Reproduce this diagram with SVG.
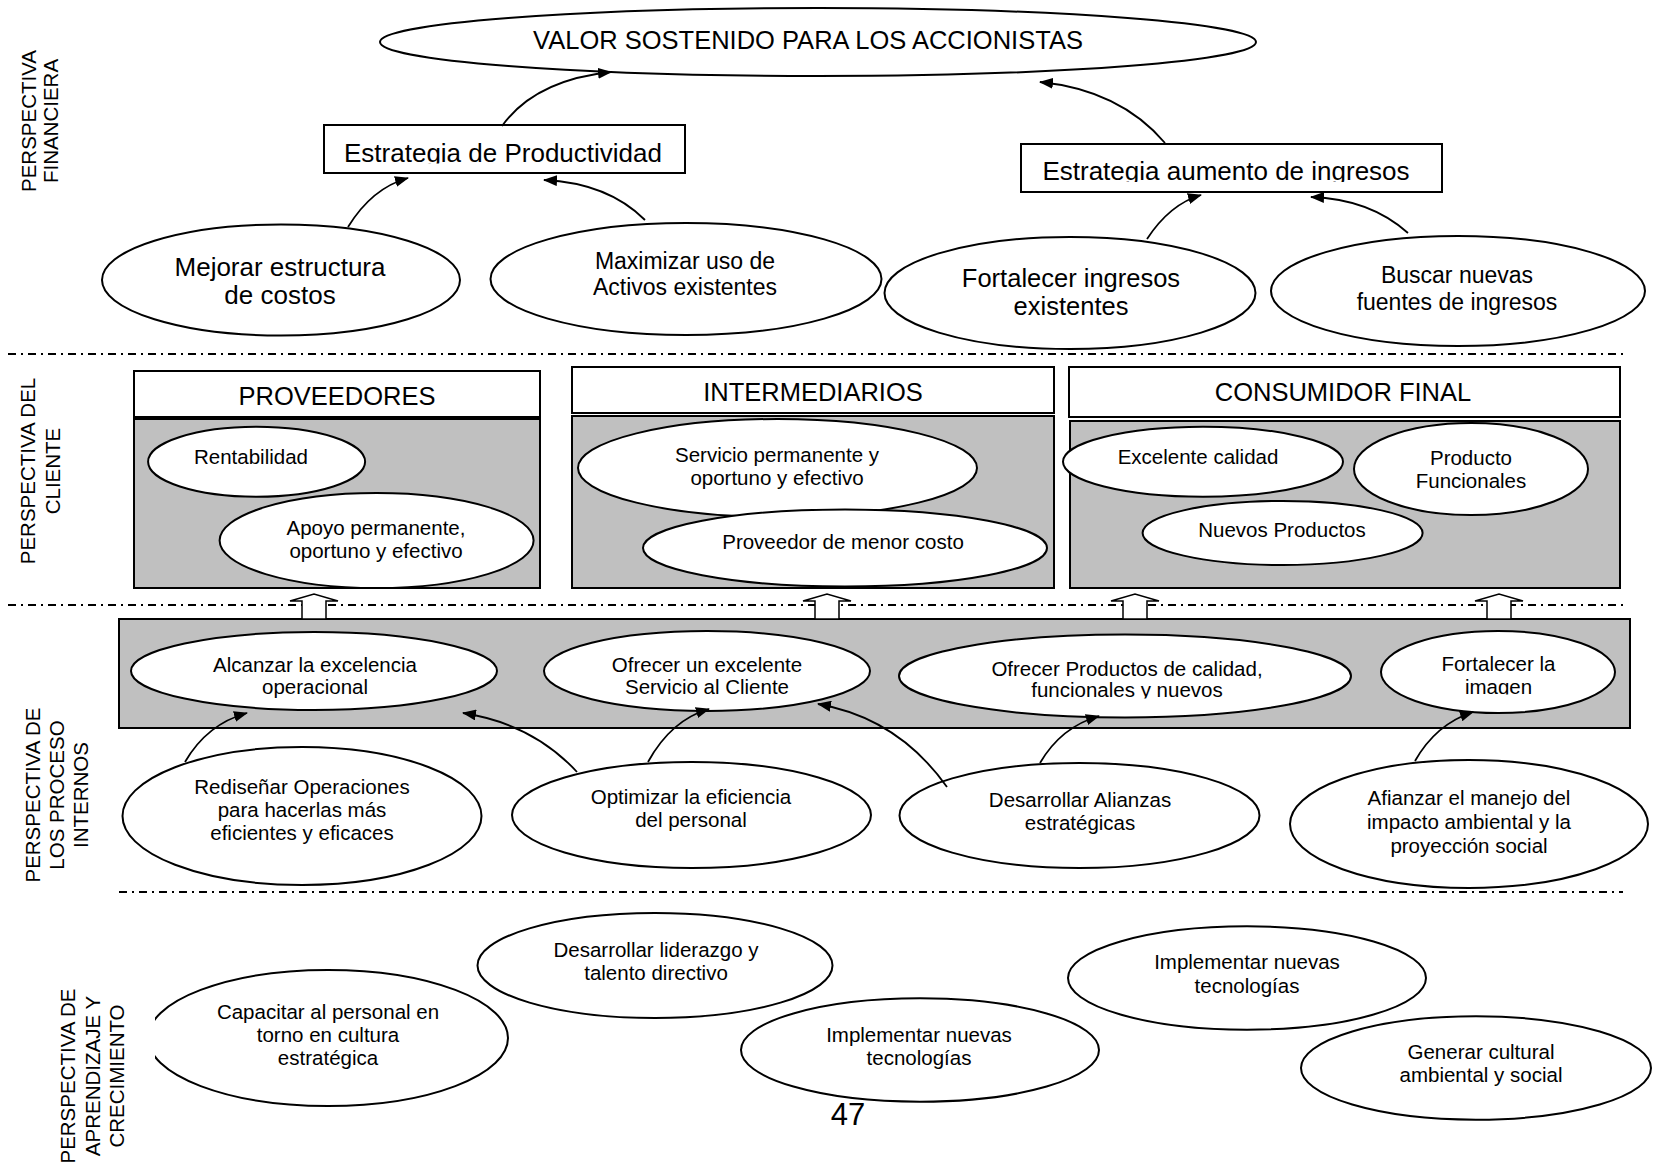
<svg xmlns="http://www.w3.org/2000/svg" width="1653" height="1168" viewBox="0 0 1653 1168">
<style>
.t{font-family:"Liberation Sans",Arial,sans-serif;fill:#000;text-anchor:middle}
.s{font-size:20.5px}
.m{font-size:23px}
.l{font-size:25.5px}
.lab{font-family:"Liberation Sans",Arial,sans-serif;font-size:20.5px;text-anchor:middle;fill:#000}
.e{fill:#fff;stroke:#000;stroke-width:2}
.box{fill:#fff;stroke:#000;stroke-width:2}
.gray{fill:#c0c0c0;stroke:#000;stroke-width:2}
.dash{stroke:#000;stroke-width:2;stroke-dasharray:8 5 2 5;fill:none}
.arr{fill:none;stroke:#000;stroke-width:1.8;marker-end:url(#ah)}
.blk{fill:#fff;stroke:#000;stroke-width:1.5}
</style>
<defs>
<marker id="ah" viewBox="0 0 14 11" refX="13" refY="5.5" markerWidth="14" markerHeight="11" markerUnits="userSpaceOnUse" orient="auto">
<path d="M0,0 L14,5.5 L0,11 z" fill="#000"/>
</marker>
<clipPath id="c1"><rect x="324" y="125" width="361" height="38.5"/></clipPath>
<clipPath id="c2"><rect x="1021" y="144" width="421" height="38"/></clipPath>
<clipPath id="c3"><rect x="900" y="635" width="452" height="63.5"/></clipPath>
<clipPath id="c4"><rect x="1381" y="632" width="234" height="62.5"/></clipPath>
<clipPath id="c5"><rect x="155" y="960" width="400" height="160"/></clipPath>
</defs>
<rect x="0" y="0" width="1653" height="1168" fill="#fff"/>

<g id="section-labels">
<text class="lab" transform="translate(36,121) rotate(-90)"><tspan x="0" y="0">PERSPECTIVA</tspan><tspan x="0" y="22">FINANCIERA</tspan></text>
<text class="lab" transform="translate(35,471) rotate(-90)"><tspan x="0" y="0">PERSPECTIVA DEL</tspan><tspan x="0" y="25">CLIENTE</tspan></text>
<text class="lab" transform="translate(39.5,795) rotate(-90)"><tspan x="0" y="0">PERSPECTIVA DE</tspan><tspan x="0" y="24">LOS PROCESO</tspan><tspan x="0" y="48">INTERNOS</tspan></text>
<text class="lab" transform="translate(75,1076) rotate(-90)"><tspan x="0" y="0">PERSPECTIVA DE</tspan><tspan x="0" y="25">APRENDIZAJE Y</tspan><tspan x="0" y="49">CRECIMIENTO</tspan></text>
</g>

<g id="separators">
<line class="dash" x1="8" y1="354" x2="1623" y2="354"/>
<line class="dash" x1="8" y1="605" x2="1623" y2="605"/>
<line class="dash" x1="119" y1="892" x2="1623" y2="892"/>
</g>

<g id="valor">
<ellipse class="e" cx="818" cy="42" rx="438" ry="34"/>
<text class="t l" x="808" y="49">VALOR SOSTENIDO PARA LOS ACCIONISTAS</text>
</g>
<g id="estrategia-productividad">
<rect class="box" x="324" y="125" width="361" height="48"/>
<text class="t" style="font-size:26px" x="503" y="161.5" clip-path="url(#c1)">Estrategia de Productividad</text>
</g>
<g id="estrategia-ingresos">
<rect class="box" x="1021" y="144" width="421" height="48"/>
<text class="t" style="font-size:26px" x="1226" y="180" clip-path="url(#c2)">Estrategia aumento de ingresos</text>
</g>
<g id="mejorar">
<ellipse class="e" cx="281" cy="280" rx="179" ry="55.5"/>
<text class="t" style="font-size:26px" x="280" y="276">Mejorar estructura<tspan x="280" y="304">de costos</tspan></text>
</g>
<g id="maximizar">
<ellipse class="e" cx="686" cy="279" rx="195.5" ry="56"/>
<text class="t m" x="685" y="269">Maximizar uso de<tspan x="685" y="295">Activos existentes</tspan></text>
</g>
<g id="fortalecer-ingresos">
<ellipse class="e" cx="1070" cy="293" rx="185.5" ry="56"/>
<text class="t l" x="1071" y="287">Fortalecer ingresos<tspan x="1071" y="315">existentes</tspan></text>
</g>
<g id="buscar">
<ellipse class="e" cx="1458" cy="291" rx="187" ry="55"/>
<text class="t m" x="1457" y="283">Buscar nuevas<tspan x="1457" y="309.5">fuentes de ingresos</tspan></text>
</g>

<g id="proveedores">
<rect class="box" x="134" y="371" width="406" height="46"/>
<rect class="gray" x="134" y="419" width="406" height="169"/>
<text class="t l" x="337" y="405">PROVEEDORES</text>
</g>
<g id="rentabilidad">
<ellipse class="e" cx="256.6" cy="461.7" rx="108.5" ry="35"/>
<text class="t s" x="251" y="464">Rentabilidad</text>
</g>
<g id="apoyo">
<ellipse class="e" cx="376.6" cy="540.5" rx="157" ry="47.5"/>
<text class="t s" x="376" y="535">Apoyo permanente,<tspan x="376" y="558">oportuno y efectivo</tspan></text>
</g>
<g id="intermediarios">
<rect class="box" x="572" y="367" width="482" height="46"/>
<rect class="gray" x="572" y="416" width="482" height="172"/>
<text class="t l" x="813" y="401">INTERMEDIARIOS</text>
</g>
<g id="servicio-permanente">
<ellipse class="e" cx="777.5" cy="468" rx="199.5" ry="49"/>
<text class="t s" x="777" y="462">Servicio permanente y<tspan x="777" y="484.5">oportuno y efectivo</tspan></text>
</g>
<g id="proveedor-menor-costo">
<ellipse class="e" cx="845" cy="548" rx="202" ry="38.5"/>
<text class="t s" x="843" y="549">Proveedor de menor costo</text>
</g>
<g id="consumidor-final">
<rect class="box" x="1069" y="367" width="551" height="50"/>
<rect class="gray" x="1070" y="421" width="550" height="167"/>
<text class="t l" x="1343" y="401">CONSUMIDOR FINAL</text>
</g>
<g id="excelente-calidad">
<ellipse class="e" cx="1203" cy="461.7" rx="140" ry="35"/>
<text class="t s" x="1198" y="464">Excelente calidad</text>
</g>
<g id="producto-funcionales">
<ellipse class="e" cx="1471" cy="469" rx="117" ry="46"/>
<text class="t s" x="1471" y="464.5">Producto<tspan x="1471" y="487.5">Funcionales</tspan></text>
</g>
<g id="nuevos-productos">
<ellipse class="e" cx="1282.6" cy="533" rx="140" ry="32"/>
<text class="t s" x="1282" y="537">Nuevos Productos</text>
</g>

<g id="procesos-internos">
<rect class="gray" x="119" y="619" width="1511" height="109"/>
</g>
<g id="alcanzar">
<ellipse class="e" cx="314" cy="671" rx="183" ry="39"/>
<text class="t s" x="315" y="672">Alcanzar la excelencia<tspan x="315" y="694">operacional</tspan></text>
</g>
<g id="ofrecer-servicio">
<ellipse class="e" cx="707" cy="671" rx="163" ry="40"/>
<text class="t s" x="707" y="672">Ofrecer un excelente<tspan x="707" y="694">Servicio al Cliente</tspan></text>
</g>
<g id="ofrecer-productos">
<ellipse class="e" cx="1125" cy="676" rx="226" ry="41.5"/>
<text class="t s" x="1127" y="675.5" clip-path="url(#c3)">Ofrecer Productos de calidad,<tspan x="1127" y="697">funcionales y nuevos</tspan></text>
</g>
<g id="fortalecer-imagen">
<ellipse class="e" cx="1498" cy="672" rx="117" ry="41"/>
<text class="t s" x="1498.5" y="670.5" clip-path="url(#c4)">Fortalecer la<tspan x="1498.5" y="693.5">imagen</tspan></text>
</g>
<g id="redisenar">
<ellipse class="e" cx="302" cy="816" rx="179.5" ry="69"/>
<text class="t s" x="302" y="794">Rediseñar Operaciones<tspan x="302" y="817">para hacerlas más</tspan><tspan x="302" y="840">eficientes y eficaces</tspan></text>
</g>
<g id="optimizar">
<ellipse class="e" cx="691.5" cy="815" rx="179.5" ry="53"/>
<text class="t s" x="691" y="803.5">Optimizar la eficiencia<tspan x="691" y="826.5">del personal</tspan></text>
</g>
<g id="desarrollar-alianzas">
<ellipse class="e" cx="1079.5" cy="815.5" rx="180" ry="52.5"/>
<text class="t s" x="1080" y="806.5">Desarrollar Alianzas<tspan x="1080" y="829.5">estratégicas</tspan></text>
</g>
<g id="afianzar">
<ellipse class="e" cx="1469" cy="824" rx="179" ry="64"/>
<text class="t s" x="1469" y="805">Afianzar el manejo del<tspan x="1469" y="829">impacto ambiental y la</tspan><tspan x="1469" y="853">proyección social</tspan></text>
</g>

<g id="capacitar">
<ellipse class="e" cx="328" cy="1038" rx="180" ry="68" clip-path="url(#c5)"/>
<text class="t s" x="328" y="1018.5">Capacitar al personal en<tspan x="328" y="1041.5">torno en cultura</tspan><tspan x="328" y="1064.5">estratégica</tspan></text>
</g>
<g id="liderazgo">
<ellipse class="e" cx="655" cy="965.5" rx="177.5" ry="52.5"/>
<text class="t s" x="656" y="956.5">Desarrollar liderazgo y<tspan x="656" y="979.5">talento directivo</tspan></text>
</g>
<g id="implementar-1">
<ellipse class="e" cx="920" cy="1050" rx="179" ry="51.7"/>
<text class="t s" x="919" y="1041.5">Implementar nuevas<tspan x="919" y="1064.5">tecnologías</tspan></text>
</g>
<g id="implementar-2">
<ellipse class="e" cx="1247" cy="978" rx="179" ry="51.7"/>
<text class="t s" x="1247" y="969">Implementar nuevas<tspan x="1247" y="992.5">tecnologías</tspan></text>
</g>
<g id="generar">
<ellipse class="e" cx="1476" cy="1068" rx="175" ry="51.7"/>
<text class="t s" x="1481" y="1058.5">Generar cultural<tspan x="1481" y="1082">ambiental y social</tspan></text>
</g>

<g id="connectors">
<path class="arr" d="M502,126 Q535,80 611,72"/>
<path class="arr" d="M348,227 Q372,188 408,178"/>
<path class="arr" d="M645,220 Q608,183 544,180"/>
<path class="arr" d="M1165,143 Q1120,90 1040,82"/>
<path class="arr" d="M1147,239 Q1170,204 1201,195"/>
<path class="arr" d="M1408,233 Q1370,199 1311,197"/>
<path class="arr" d="M185,762 Q207,724 247,713"/>
<path class="arr" d="M577,772 Q533,724 463,713"/>
<path class="arr" d="M648,762 Q671,720 709,709"/>
<path class="arr" d="M947,787 Q898,718 818,704"/>
<path class="arr" d="M1040,763 Q1061,727 1099,716"/>
<path class="arr" d="M1415,761 Q1436,724 1473,712"/>
<polygon class="blk" points="302,619 302,601 290,601 314,594 338,601 326,601 326,619"/>
<polygon class="blk" points="815,619 815,601 803,601 827,594 851,601 839,601 839,619"/>
<polygon class="blk" points="1123,619 1123,601 1111,601 1135,594 1159,601 1147,601 1147,619"/>
<polygon class="blk" points="1487,619 1487,601 1475,601 1499,594 1523,601 1511,601 1511,619"/>
</g>

<g id="page-number">
<text class="t" style="font-size:31px" x="848" y="1125">47</text>
</g>
</svg>
